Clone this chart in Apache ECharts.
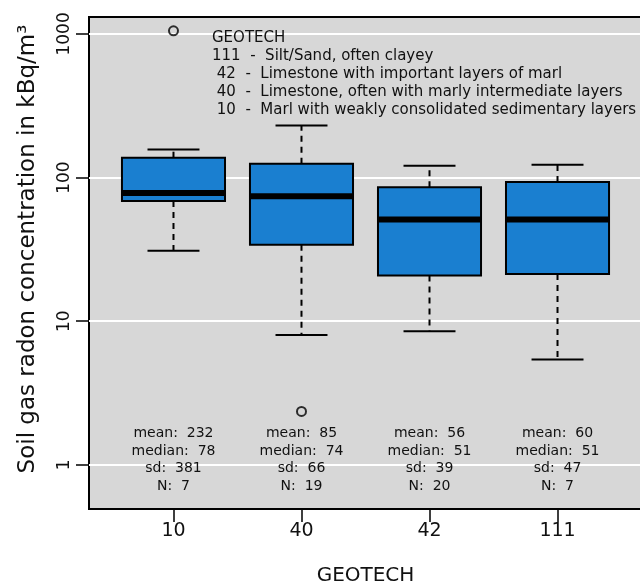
<!DOCTYPE html>
<html>
<head>
<meta charset="utf-8">
<script src="https://cdn.jsdelivr.net/npm/echarts@6/dist/echarts.min.js"></script>
<style>
  html, body { margin: 0; padding: 0; background: #ffffff; }
  #chart { width: 640px; height: 588px; }
</style>
</head>
<body>
<div id="chart"></div>
<script>
// Geotechnical units on the x axis
const categories = ['10', '40', '42', '111'];

// Box statistics per unit (kBq/m³)
const whiskerLow  = [30.9, 8.0, 8.5, 5.4];
const lowerQuart  = [68.7, 34.1, 20.8, 21.3];
const medians     = [78, 74, 51, 51];
const upperQuart  = [137.5, 125, 85.7, 93.2];
const whiskerHigh = [157, 230, 121, 123];

// Points beyond the whiskers
const outlierUnits  = ['10', '40'];
const outlierValues = [1052, 2.35];

// Summary statistics printed under each box
const means  = [232, 85, 56, 60];
const sds    = [381, 66, 39, 47];
const counts = [7, 19, 20, 7];

// Log axis ticks
const yTicks = [1, 10, 100, 1000];

// Axis titles
const xTitle = 'GEOTECH';
const yTitle = 'Soil gas radon concentration in kBq/m³';

// Key to the unit codes
const keyTitle = 'GEOTECH';
const keyLines = [
  '111  -  Silt/Sand, often clayey',
  ' 42  -  Limestone with important layers of marl',
  ' 40  -  Limestone, often with marly intermediate layers',
  ' 10  -  Marl with weakly consolidated sedimentary layers'
];

const FONT = '"DejaVu Sans", sans-serif';
const BOX_FILL = '#1a7fd0';
const positions = categories.map((c, i) => i + 1);

const boxData = categories.map((c, i) => [
  positions[i], whiskerLow[i], lowerQuart[i], medians[i], upperQuart[i], whiskerHigh[i], i
]);
const outlierData = outlierUnits.map((u, k) => [categories.indexOf(u) + 1, outlierValues[k]]);

function renderBox(params, api) {
  const x = api.value(0);
  const idx = api.value(6);
  const pLo = api.coord([x, api.value(1)]);
  const pQ1 = api.coord([x, api.value(2)]);
  const pMed = api.coord([x, api.value(3)]);
  const pQ3 = api.coord([x, api.value(4)]);
  const pHi = api.coord([x, api.value(5)]);
  const left = api.coord([x - 0.4025, api.value(3)])[0];
  const right = api.coord([x + 0.4025, api.value(3)])[0];
  const capL = api.coord([x - 0.203, api.value(3)])[0];
  const capR = api.coord([x + 0.203, api.value(3)])[0];
  const cx = pMed[0];
  const cs = params.coordSys;
  const dash = { stroke: '#000', lineWidth: 2, lineDash: [6, 5] };
  const solid = { stroke: '#000', lineWidth: 2 };
  const statText = 'mean:  ' + means[idx] + '\nmedian:  ' + medians[idx] +
    '\nsd:  ' + sds[idx] + '\nN:  ' + counts[idx];
  return {
    type: 'group',
    children: [
      { type: 'line', shape: { x1: cx, y1: pQ3[1], x2: cx, y2: pHi[1] }, style: dash },
      { type: 'line', shape: { x1: cx, y1: pQ1[1], x2: cx, y2: pLo[1] }, style: dash },
      { type: 'line', shape: { x1: capL, y1: pHi[1], x2: capR, y2: pHi[1] }, style: solid },
      { type: 'line', shape: { x1: capL, y1: pLo[1], x2: capR, y2: pLo[1] }, style: solid },
      { type: 'rect', shape: { x: left, y: pQ3[1], width: right - left, height: pQ1[1] - pQ3[1] },
        style: { fill: BOX_FILL, stroke: '#000', lineWidth: 2 } },
      { type: 'line', shape: { x1: left, y1: pMed[1], x2: right, y2: pMed[1] },
        style: { stroke: '#000', lineWidth: 6 } },
      { type: 'text', z2: 10,
        style: { text: statText, x: cx, y: cs.y + cs.height - 84, align: 'center',
                 verticalAlign: 'top', font: '14px ' + FONT, lineHeight: 17.4, fill: '#111' } }
    ]
  };
}

const chart = echarts.init(document.getElementById('chart'), null, { renderer: 'canvas' });
chart.setOption({
  animation: false,
  backgroundColor: '#ffffff',
  grid: {
    left: 89, top: 17, width: 553, height: 492,
    outerBoundsMode: 'none',
    show: true, backgroundColor: '#d7d7d7', borderColor: '#000', borderWidth: 2
  },
  xAxis: {
    type: 'value', min: 0.34, max: 4.66,
    name: xTitle, nameLocation: 'middle', nameGap: 57,
    nameTextStyle: { fontFamily: FONT, fontSize: 20, color: '#111' },
    axisLine: { show: false },
    splitLine: { show: false },
    axisTick: { show: true, customValues: positions, length: 13, lineStyle: { color: '#000', width: 1.5 } },
    axisLabel: {
      customValues: positions, margin: 13, fontFamily: FONT, fontSize: 19, color: '#111',
      formatter: v => categories[Math.round(v) - 1]
    }
  },
  yAxis: {
    type: 'log', logBase: 10, min: 0.492, max: 1312,
    axisLine: { show: false },
    splitLine: { show: false },
    axisTick: { show: true, customValues: yTicks, length: 13, lineStyle: { color: '#000', width: 1.5 } },
    axisLabel: {
      customValues: yTicks, rotate: 90, margin: 16, fontFamily: FONT, fontSize: 17, color: '#111',
      formatter: v => String(Math.round(v))
    }
  },
  graphic: [
    {
      type: 'text', left: 212, top: 29, z: 10,
      style: {
        text: [keyTitle].concat(keyLines).join('\n'),
        font: '15px ' + FONT, lineHeight: 18, fill: '#111'
      }
    },
    {
      type: 'text', x: 28, y: 249, rotation: Math.PI / 2, z: 10,
      style: {
        text: yTitle, font: '23px ' + FONT, fill: '#111',
        align: 'center', verticalAlign: 'middle'
      }
    }
  ],
  series: [
    {
      type: 'custom', name: 'boxes', z: 2,
      renderItem: renderBox,
      data: boxData,
      encode: { x: 0, y: [1, 2, 3, 4, 5] },
      silent: true,
      markLine: {
        z: 1, silent: true, symbol: 'none', label: { show: false },
        lineStyle: { color: '#ffffff', width: 2, type: 'solid' },
        data: yTicks.map(v => ({ yAxis: v }))
      }
    },
    {
      type: 'scatter', name: 'outliers', z: 3,
      data: outlierData,
      symbol: 'circle', symbolSize: 9,
      itemStyle: { color: 'rgba(0,0,0,0)', borderColor: '#000', borderWidth: 2 }
    }
  ]
});
</script>
</body>
</html>
